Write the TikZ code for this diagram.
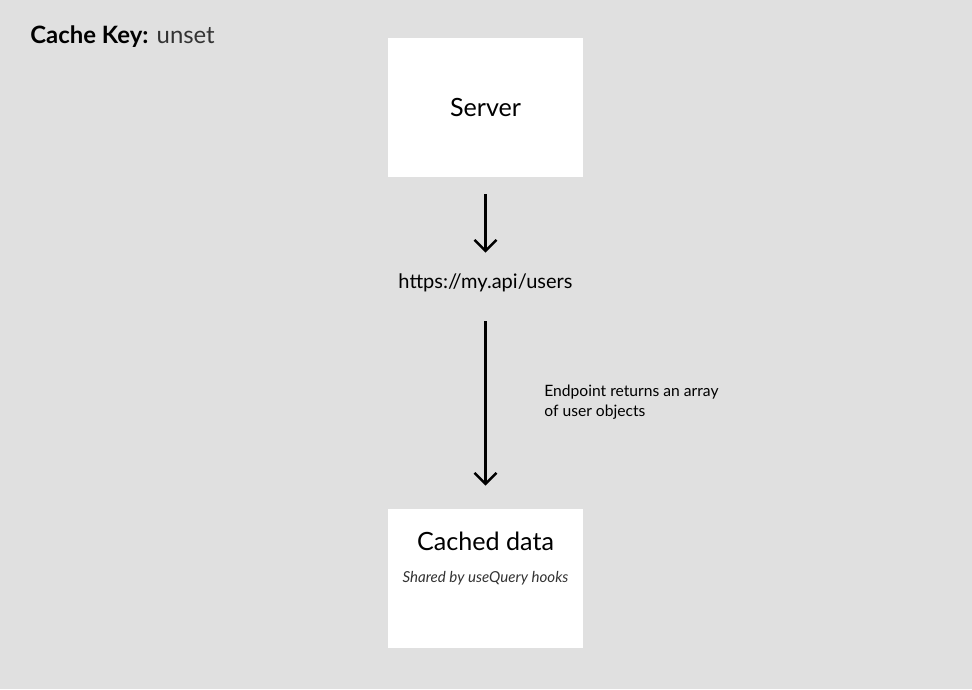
\documentclass[tikz,border=0pt]{standalone}
\usepackage{fontspec}
\setmainfont{Lato}
\usetikzlibrary{arrows.meta,positioning}
\definecolor{bggray}{HTML}{E0E0E0}
\definecolor{inkgray}{HTML}{333333}

\begin{document}
\begin{tikzpicture}
[x=0.02cm,y=-0.02cm,
box/.style={rectangle,fill=white,minimum width=3.9cm,minimum height=2.78cm,inner sep=0pt},
flow/.style={-{Straight Barb[length=0.22cm,width=0.44cm]},line width=1.4pt},
title/.style={font=\fontsize{14.3}{17}\selectfont},
small/.style={font=\fontsize{8.9}{11.3}\selectfont}]
\fill[bggray] (0,0) rectangle (972,689);
\node[anchor=base west,inner sep=0pt,font=\fontsize{13.6}{16}\selectfont] at (30,44) (key) {\textbf{Cache Key:} \textcolor{inkgray}{unset}};
\node[box] at (485.5,107.5) (server) {};
\node[title] at (485.5,107.5) (serverlbl) {Server};
\node[font=\fontsize{11.4}{13}\selectfont] at (485.5,283) (url) {https://my.api/users};
\node[box] at (485.5,578.5) (cache) {};
\node[title] at (485.5,541) (cachelbl) {Cached data};
\node[font=\fontsize{8.6}{10}\selectfont\itshape,text=inkgray] at (485.5,578) (shared) {Shared by useQuery hooks};
\node[small,anchor=north west,align=left,inner sep=0pt] at (544,385) (note) {Endpoint returns an array\\of user objects};
\draw[flow,shorten <=0.34cm,shorten >=0.3cm] (server) -- (url);
\draw[flow,shorten <=0.46cm,shorten >=0.46cm] (url) -- (cache);
\end{tikzpicture}
\end{document}
